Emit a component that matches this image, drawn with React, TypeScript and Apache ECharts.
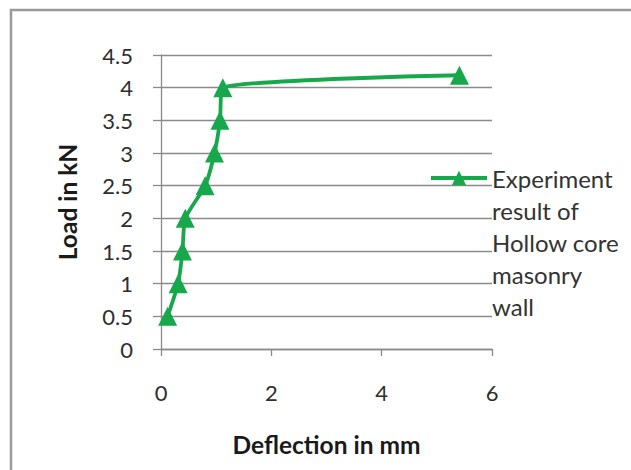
import React, { useEffect, useRef } from "react";
import * as echarts from "echarts";

const deflection = [0.12, 0.31, 0.39, 0.44, 0.8, 0.97, 1.07, 1.12, 5.41];
const load = [0.5, 1, 1.5, 2, 2.5, 3, 3.5, 4, 4.19];
const seriesName = "Experiment result of Hollow core masonry wall";
const legendLines = ["Experiment", "result of", "Hollow core", "masonry", "wall"];
const xTitle = "Deflection in mm";
const yTitle = "Load in kN";
const xRange = { min: 0, max: 6, interval: 2 };
const yRange = { min: 0, max: 4.5, interval: 0.5 };

const FONT = "Lato, 'Open Sans', sans-serif";
const GREEN = "#17A84B";
const GRID = "#8a8a8a";
const LH = 32;

export default function App() {
  const ref = useRef<HTMLDivElement>(null);
  useEffect(() => {
    if (!ref.current) return;
    const chart = echarts.init(ref.current, undefined, { renderer: "svg" });
    const data = deflection.map((x, i) => [x, load[i]]);
    const spacer = "\n".repeat(legendLines.length - 1);
    chart.setOption({
      animation: false,
      backgroundColor: "#ffffff",
      textStyle: { fontFamily: FONT },
      graphic: [
        {
          type: "rect",
          shape: { x: 11, y: 10, width: 640, height: 500 },
          style: { fill: "none", stroke: "#9a9a9a", lineWidth: 2.5 },
          silent: true,
        },
      ],
      grid: { left: 161, right: 139, top: 55, bottom: 121, containLabel: false },
      legend: {
        left: 429,
        top: 178 - 4.5 * LH,
        padding: 0,
        itemWidth: 56,
        itemHeight: 18,
        lineStyle: { width: 4 },
        data: [{ name: seriesName }],
        formatter: () => spacer + legendLines.join("\n"),
        textStyle: {
          fontFamily: FONT,
          fontSize: 24,
          color: "#333333",
          lineHeight: LH,
        },
      },
      xAxis: {
        type: "value",
        min: xRange.min,
        max: xRange.max,
        interval: xRange.interval,
        name: xTitle,
        nameLocation: "middle",
        nameGap: 83,
        nameTextStyle: { fontFamily: FONT, fontSize: 24.5, fontWeight: "bold", color: "#1a1a1a" },
        axisLine: { show: true, onZero: false, lineStyle: { color: GRID, width: 1.3 } },
        axisTick: { show: true, length: 7, lineStyle: { color: GRID, width: 1.3 } },
        axisLabel: { margin: 32, fontFamily: FONT, fontSize: 22, color: "#2e2e2e" },
        splitLine: { show: false },
      },
      yAxis: {
        type: "value",
        min: yRange.min,
        max: yRange.max,
        interval: yRange.interval,
        name: yTitle,
        nameLocation: "middle",
        nameGap: 81,
        nameTextStyle: { fontFamily: FONT, fontSize: 24.5, fontWeight: "bold", color: "#1a1a1a" },
        axisLine: { show: true, lineStyle: { color: GRID, width: 1.3 } },
        axisTick: { show: true, length: 8, lineStyle: { color: GRID, width: 1.3 } },
        axisLabel: { margin: 28, fontFamily: FONT, fontSize: 22, color: "#2e2e2e" },
        splitLine: { show: true, lineStyle: { color: GRID, width: 1.3 } },
      },
      series: [
        {
          name: seriesName,
          type: "line",
          data,
          smooth: 0.2,
          symbol: "triangle",
          symbolSize: 19,
          color: GREEN,
          lineStyle: { color: GREEN, width: 3.8 },
          itemStyle: { color: GREEN },
        },
      ],
    });
    return () => chart.dispose();
  }, []);
  return (
    <div
      ref={ref}
      style={{ position: "fixed", left: 0, top: 0, width: 631, height: 470 }}
    />
  );
}
